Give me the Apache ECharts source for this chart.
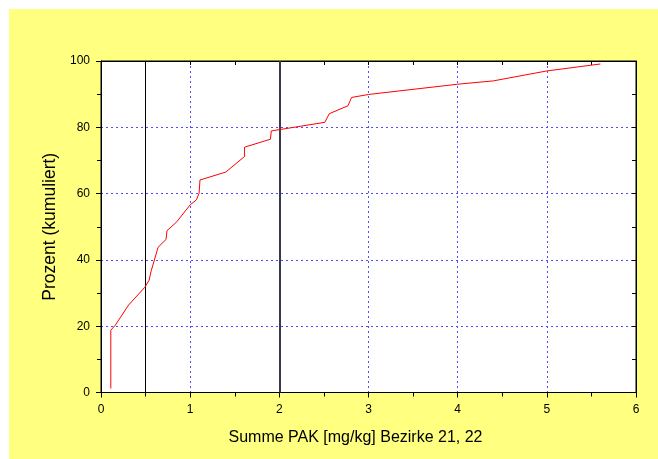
<!DOCTYPE html>
<html>
<head>
<meta charset="utf-8">
<script src="https://cdn.jsdelivr.net/npm/echarts@6/dist/echarts.min.js"></script>
<style>
html,body{margin:0;padding:0;background:#fff;}
#c{width:658px;height:459px;}
</style>
</head>
<body>
<div id="c"></div>
<script>
// Cumulative distribution: Summe PAK [mg/kg] (x) vs Prozent kumuliert (y)
var pakValues = [0.11, 0.11, 0.16, 0.31, 0.49, 0.54, 0.56, 0.64, 0.73, 0.74, 0.85, 1.00, 1.07, 1.10, 1.11, 1.40, 1.61, 1.61, 1.90, 1.91, 2.51, 2.56, 2.77, 2.81, 3.00, 4.00, 4.40, 5.00, 5.60];
var percentValues = [1.2, 18.8, 20.3, 26.4, 31.7, 33.9, 36.4, 43.8, 46.2, 48.8, 51.5, 56.6, 58.1, 60.1, 64.1, 66.5, 71.2, 74.0, 76.4, 78.9, 81.5, 84.1, 86.5, 89.0, 89.9, 93.0, 94.0, 97.0, 99.1];
var referenceLines = [0.5, 2];
var xTitle = 'Summe PAK [mg/kg] Bezirke 21, 22';
var yTitle = 'Prozent (kumuliert)';

var seriesData = pakValues.map(function (v, i) { return [v, percentValues[i]]; });
var font = 'Arial, "Liberation Sans", sans-serif';
var gridLine = { show: true, lineStyle: { color: '#4d4dff', width: 1, type: [2, 3] } };

var chart = echarts.init(document.getElementById('c'), null, { renderer: 'canvas' });
chart.setOption({
  animation: false,
  backgroundColor: '#ffffff',
  graphic: [{
    type: 'rect', z: -10, silent: true,
    shape: { x: 9, y: 9, width: 649, height: 450 },
    style: { fill: '#ffff80' }
  }],
  grid: {
    left: 101, right: 22, top: 61, bottom: 66.5,
    show: true, backgroundColor: '#ffffff', borderColor: '#000', borderWidth: 1
  },
  xAxis: [{
    type: 'value', min: 0, max: 6, interval: 1,
    position: 'bottom',
    axisLine: { show: true, onZero: false, lineStyle: { color: '#000', width: 1 } },
    axisTick: { show: true, length: 5, lineStyle: { color: '#000' } },
    minorTick: { show: true, splitNumber: 2, length: 4, lineStyle: { color: '#000' } },
    axisLabel: { color: '#000', fontSize: 12, fontFamily: font, margin: 11 },
    splitLine: gridLine,
    name: xTitle, nameLocation: 'middle', nameGap: 37,
    nameTextStyle: { color: '#000', fontSize: 16, fontFamily: font, padding: [0, 26, 0, 0] }
  }, {
    type: 'value', min: 0, max: 6, interval: 1,
    position: 'top',
    axisLine: { show: true, onZero: false, lineStyle: { color: '#000', width: 1 } },
    axisTick: { show: true, inside: true, length: 4, lineStyle: { color: '#000' } },
    minorTick: { show: true, splitNumber: 2, length: 4, lineStyle: { color: '#000' } },
    axisLabel: { show: false },
    splitLine: { show: false }
  }],
  yAxis: [{
    type: 'value', min: 0, max: 100, interval: 20,
    position: 'left',
    axisLine: { show: true, onZero: false, lineStyle: { color: '#000', width: 1 } },
    axisTick: { show: true, length: 5, lineStyle: { color: '#000' } },
    minorTick: { show: true, splitNumber: 2, length: 4, lineStyle: { color: '#000' } },
    axisLabel: { color: '#000', fontSize: 12, fontFamily: font, margin: 11 },
    splitLine: gridLine,
    name: yTitle, nameLocation: 'middle', nameGap: 42, nameRotate: 90,
    nameTextStyle: { color: '#000', fontSize: 17.5, fontFamily: font }
  }, {
    type: 'value', min: 0, max: 100, interval: 20,
    position: 'right',
    axisLine: { show: true, onZero: false, lineStyle: { color: '#000', width: 1 } },
    axisTick: { show: true, inside: true, length: 4, lineStyle: { color: '#000' } },
    minorTick: { show: true, splitNumber: 2, length: 4, lineStyle: { color: '#000' } },
    axisLabel: { show: false },
    splitLine: { show: false }
  }],
  series: [{
    type: 'line',
    xAxisIndex: 0, yAxisIndex: 0,
    data: seriesData,
    showSymbol: false,
    symbol: 'none',
    lineStyle: { color: '#ff0000', width: 1 },
    z: 5,
    markLine: {
      silent: true,
      symbol: ['none', 'none'],
      label: { show: false },
      data: [
        { xAxis: referenceLines[0], lineStyle: { color: '#000', width: 1, type: 'solid' } },
        { xAxis: referenceLines[1], lineStyle: { color: '#3a3a4a', width: 2, type: 'solid' } }
      ]
    }
  }]
});
</script>
</body>
</html>
